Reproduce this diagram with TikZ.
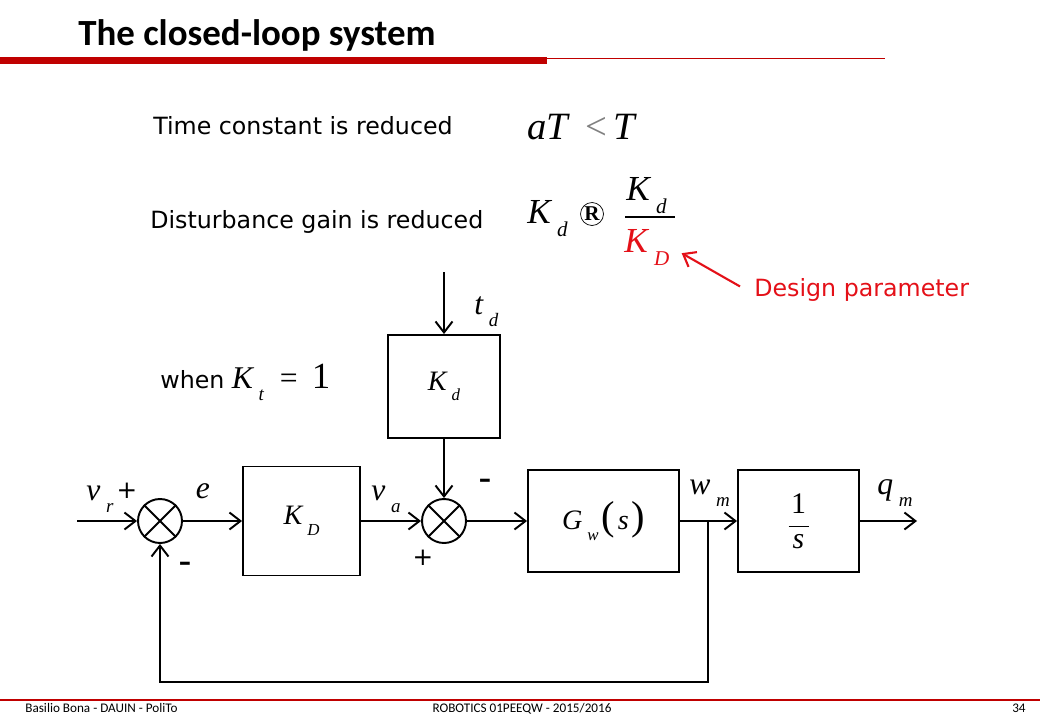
\documentclass[tikz,border=0pt]{standalone}
\usepackage{fontspec}
\setmainfont{DejaVu Sans}
\newfontfamily\tnr{Liberation Serif}
\newfontfamily\calib{Carlito}
\usepackage{xcolor}
\usetikzlibrary{arrows.meta,calc,positioning}
\definecolor{slidered}{RGB}{192,0,0}
\definecolor{dpred}{RGB}{228,16,24}

% lowered, spaced subscript as in the slide
\makeatletter
\newcommand{\sbx}[2]{#1\kern0.18em\raisebox{-0.38em}{\fontsize{\fpeval{0.6*\f@size}}{1}\selectfont #2}}
\makeatother

\begin{document}
\begin{tikzpicture}[x=0.02cm,y=-0.02cm,>={Straight Barb[length=2.2mm,width=3.4mm]},
  blk/.style={draw,line width=1.1pt,inner sep=0pt},
  sumj/.style={draw,circle,line width=1.1pt,minimum size=0.88cm,inner sep=0pt},
  sig/.style={line width=1.1pt,->},
  sgn/.style={font=\fontsize{14}{16}\selectfont,inner sep=0pt},
  lab/.style={font=\tnr\itshape\fontsize{18}{22}\selectfont,inner sep=0pt},
  blab/.style={font=\tnr\itshape\fontsize{16}{18}\selectfont,inner sep=0pt},
  txt/.style={font=\fontsize{13.5}{16}\selectfont,inner sep=0pt,anchor=base west},
  foot/.style={font=\calib\fontsize{7.5}{9}\selectfont,inner sep=0pt}]
\useasboundingbox (0,0) rectangle (1040,720);

% header
\node[anchor=base west,inner sep=0pt,font=\calib\bfseries\fontsize{21}{24}\selectfont] (title) at (78,45) {The closed-loop system};
\fill[slidered] (0,57) rectangle (547,64);
\draw[slidered,line width=0.6pt] (547,58.5) -- (885,58.5);

% remarks
\node[txt] (tconst) at (153,134) {Time constant is reduced};
\node[txt] (dgain) at (150,228) {Disturbance gain is reduced};
\node[anchor=base west,inner sep=0pt,font=\tnr\fontsize{22}{24}\selectfont] (ineq) at (527,139)
  {\textit{aT}\hspace{0.4em}\textcolor{gray}{<}\hspace{0.15em}\textit{T}};
\node[anchor=base west,inner sep=0pt,font=\tnr\itshape\fontsize{20}{22}\selectfont] (kdl) at (527,223) {\sbx{K}{d}};
\node[draw,circle,inner sep=0pt,minimum size=0.46cm,line width=0.4pt,font=\tnr\bfseries\fontsize{12}{12}\selectfont] (rsym) at (592,214) {R};
\node[anchor=base west,inner sep=0pt,font=\tnr\itshape\fontsize{20}{22}\selectfont] (knum) at (626,200) {\sbx{K}{d}};
\node[anchor=base west,inner sep=0pt,font=\tnr\itshape\fontsize{20}{22}\selectfont,dpred] (kden) at (624,252) {\sbx{K}{D}};
\draw[line width=1.2pt] (625,217) -- (675,217);
\node[txt,dpred] (dpar) at (754,296) {Design parameter};
\draw[dpred,line width=1.2pt,->] ($(dpar.west)+(-14,-3)$) -- ($(kden.east)+(12,6)$);

\node[txt] (when) at (160,388) {when \tnr\itshape\fontsize{18}{20}\selectfont\sbx{K}{t}\hspace{0.5em}{\upshape =\hspace{0.45em}{\fontsize{21}{22}\selectfont 1}}};

% block diagram
\node[sumj] (sa) at (160,521) {};
\node[sumj] (sb) at (444,521) {};
\foreach \s in {sa,sb}
  \draw[line width=1.1pt] (\s.45) -- (\s.225) (\s.135) -- (\s.315);
\node[blk,minimum width=2.34cm,minimum height=2.18cm,blab] (kD) at (301.5,521) {\sbx{K}{D}};
\node[blk,minimum width=2.24cm,minimum height=2.06cm,blab] (kd) at (444,386.5) {\sbx{K}{d}};
\node[blk,minimum width=3.02cm,minimum height=2.04cm,blab] (gw) at (603.5,521)
  {\sbx{G}{w}\hspace{0.1em}{\upshape\fontsize{23}{24}\selectfont(}\hspace{0.1em}s\hspace{0.1em}{\upshape\fontsize{23}{24}\selectfont)}};
\node[blk,minimum width=2.42cm,minimum height=2.04cm,align=center,font=\tnr\fontsize{17}{15}\selectfont] (integ) at (798.5,521)
  {1\\[-7pt]\rule{0.4cm}{0.7pt}\\[-3pt]\textit{s}};

\coordinate (vin) at (77,521);
\coordinate (qout) at (917,521);
\coordinate (tdin) at (444,272);
\coordinate (br) at (708,521);
\coordinate (fb) at (708,682);

\draw[sig] (vin) -- (sa.west);
\draw[sig] (sa.east) -- (kD.west);
\draw[sig] (kD.east) -- (sb.west);
\draw[sig] (tdin) -- (kd.north);
\draw[sig] (kd.south) -- (sb.north);
\draw[sig] (sb.east) -- (gw.west);
\draw[sig] (gw.east) -- (integ.west);
\draw[sig] (integ.east) -- (qout);
\draw[sig] (br) -- (fb) -| (sa.south);

% signal names and signs
\node[lab,anchor=base west] (vr) at (86,500) {\sbx{v}{r}};
\node[lab] (e) at (203,491) {e};
\node[lab,anchor=base west] (va) at (371,500) {\sbx{v}{a}};
\node[lab,anchor=base west] (td) at (474,314) {\sbx{t}{d}};
\node[lab,anchor=base west] (wm) at (689,494) {\sbx{w}{m}};
\node[lab,anchor=base west] (qm) at (877,494) {\sbx{q}{m}};
\node[sgn] (pa) at (127,491) {+};
\node[sgn,font=\bfseries\fontsize{14}{16}\selectfont] (ma) at (185,566) {–};
\node[sgn] (pb) at (423,558) {+};
\node[sgn,font=\bfseries\fontsize{14}{16}\selectfont] (mb) at (485,483) {–};

% footer
\draw[slidered,line width=0.7pt] (0,700) -- (1040,700);
\node[foot,anchor=base west] (fl) at (25,712) {Basilio Bona - DAUIN - PoliTo};
\node[foot,anchor=base] (fc) at (522,712) {ROBOTICS 01PEEQW - 2015/2016};
\node[foot,anchor=base east] (fr) at (1026,712) {34};
\end{tikzpicture}
\end{document}
